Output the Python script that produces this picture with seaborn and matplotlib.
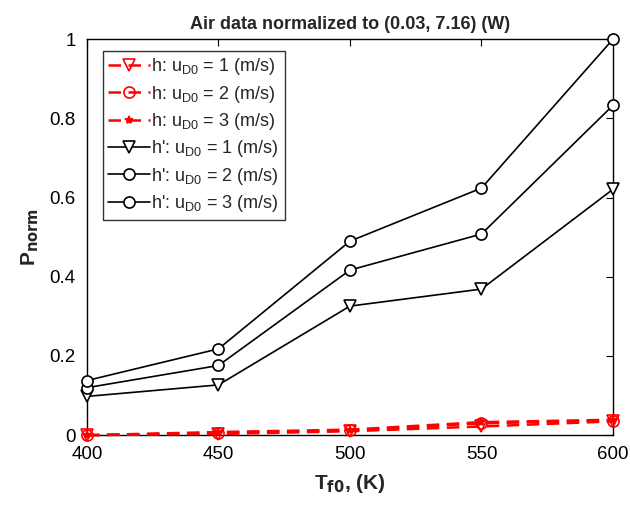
import numpy as np
import pandas as pd
import matplotlib
matplotlib.use("Agg")
import matplotlib.pyplot as plt
import seaborn as sns

# data
T_f0 = [400, 450, 500, 550, 600]
h_u1 = [0.0, 0.003, 0.010, 0.022, 0.035]
h_u2 = [0.0, 0.006, 0.012, 0.030, 0.037]
h_u3 = [0.0, 0.008, 0.014, 0.033, 0.039]
hp_u1 = [0.098, 0.127, 0.326, 0.369, 0.621]
hp_u2 = [0.120, 0.176, 0.417, 0.508, 0.833]
hp_u3 = [0.138, 0.218, 0.490, 0.624, 1.0]

sns.set_style("white")
plt.rcParams['font.family'] = ['Liberation Sans', 'DejaVu Sans']
plt.rcParams['mathtext.fontset'] = 'custom'
plt.rcParams['mathtext.rm'] = 'Liberation Sans'

fig = plt.figure(figsize=(6.3, 5.09), dpi=100)
ax = fig.add_axes([0.138, 0.145, 0.835, 0.778])

series = [
    (h_u1, "r", (0, (5, 3)), "v", "none", r"h: u$_{\mathrm{D0}}$ = 1 (m/s)"),
    (h_u2, "r", (0, (5, 3)), "o", "none", r"h: u$_{\mathrm{D0}}$ = 2 (m/s)"),
    (h_u3, "r", (0, (5, 3)), "*", "r", r"h: u$_{\mathrm{D0}}$ = 3 (m/s)"),
    (hp_u1, "k", "-", "v", "white", r"h': u$_{\mathrm{D0}}$ = 1 (m/s)"),
    (hp_u2, "k", "-", "o", "white", r"h': u$_{\mathrm{D0}}$ = 2 (m/s)"),
    (hp_u3, "k", "-", "o", "white", r"h': u$_{\mathrm{D0}}$ = 3 (m/s)"),
]
for vals, col, ls, mk, fc, lab in series:
    sns.lineplot(x=T_f0, y=vals, ax=ax, color=col, linestyle=ls, marker=mk,
                 markersize=8 if mk != "*" else 6, markerfacecolor=fc, markeredgecolor=col,
                 markeredgewidth=1.2, linewidth=1.2 if col == "k" else 1.8, label=lab,
                 clip_on=False, zorder=3)

ax.set_xlim(400, 600)
ax.set_ylim(0, 1)
ax.set_xticks([400, 450, 500, 550, 600])
ax.set_yticks([0, 0.2, 0.4, 0.6, 0.8, 1])
ax.set_yticklabels(["0", "0.2", "0.4", "0.6", "0.8", "1"])
ax.tick_params(direction="in", length=5, labelsize=13.5, top=True, right=True,
               colors="k", pad=8)
for s in ax.spines.values():
    s.set_color("k")
    s.set_linewidth(1.0)

ax.set_title("Air data normalized to (0.03, 7.16) (W)", fontsize=13, fontweight="bold", pad=7)
ax.set_xlabel(r"T$_{\mathbf{f0}}$, (K)", fontsize=15, fontweight="bold", labelpad=6)
ax.set_ylabel(r"P$_{\mathbf{norm}}$", fontsize=15, fontweight="bold", labelpad=6)

leg = ax.legend(loc="upper left", bbox_to_anchor=(0.03, 0.97), fontsize=13,
                frameon=True, fancybox=False, edgecolor="k", handlelength=2.3,
                handletextpad=0.1, borderpad=0.3, labelspacing=0.35, borderaxespad=0)
leg.get_frame().set_linewidth(1.0)

fig.savefig("out.png", dpi=100)
